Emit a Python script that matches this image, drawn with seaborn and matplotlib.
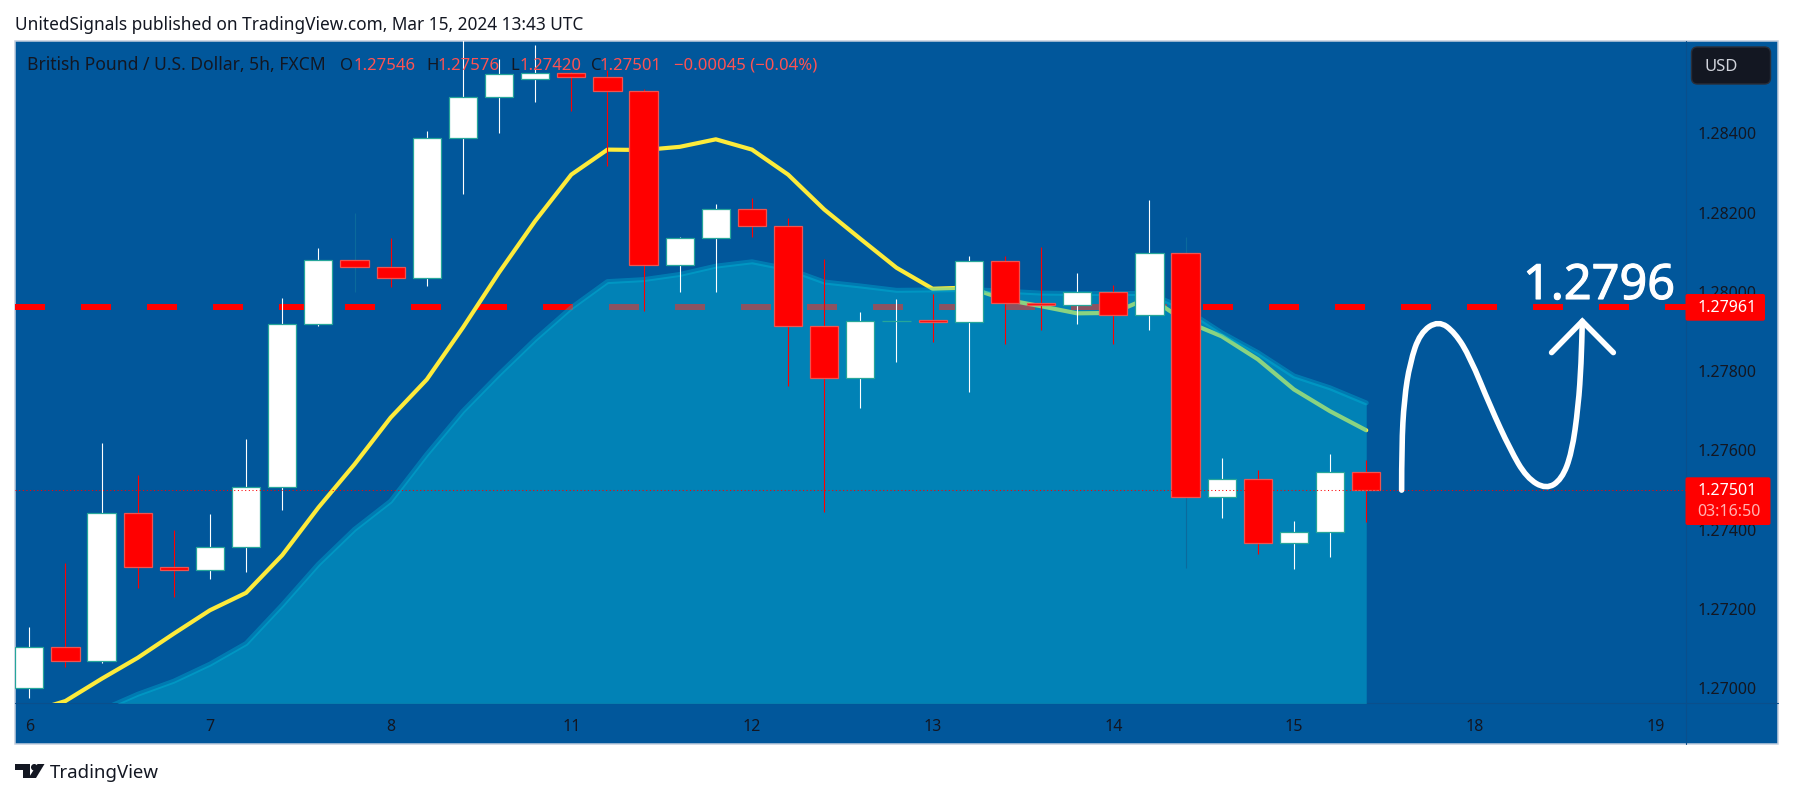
#!/usr/bin/env python3
"""
GBP/USD 5h candles with EMA lines and a hand drawn forecast
"""

import pandas as pd
import matplotlib
matplotlib.use("Agg")
import matplotlib.pyplot as plt
import matplotlib.patheffects as pe
import seaborn as sns
from matplotlib.patches import Rectangle, FancyBboxPatch, Polygon, Circle, PathPatch
from matplotlib.path import Path

# candles
opens = [1.27002, 1.27105, 1.27069, 1.27443, 1.27307, 1.27298, 1.27357, 1.27509, 1.27920, 1.28081,
         1.28064, 1.28036, 1.28389, 1.28492, 1.28538, 1.28553, 1.28543, 1.28507, 1.28069, 1.28136,
         1.28210, 1.28166, 1.27914, 1.27784, 1.27926, 1.27928, 1.27925, 1.28078, 1.27973, 1.27968,
         1.28000, 1.27942, 1.28099, 1.27483, 1.27529, 1.27367, 1.27395, 1.27546]
highs = [1.27154, 1.27315, 1.27620, 1.27537, 1.27399, 1.27441, 1.27628, 1.27984, 1.28110, 1.28200,
         1.28136, 1.28405, 1.28650, 1.28588, 1.28622, 1.28556, 1.28561, 1.28511, 1.28139, 1.28223,
         1.28236, 1.28187, 1.28082, 1.27950, 1.27981, 1.27994, 1.28090, 1.28090, 1.28114, 1.28047,
         1.28017, 1.28233, 1.28139, 1.27580, 1.27552, 1.27421, 1.27590, 1.27576]
lows = [1.26975, 1.27054, 1.27063, 1.27253, 1.27230, 1.27275, 1.27293, 1.27449, 1.27915, 1.27999,
        1.28013, 1.28015, 1.28246, 1.28400, 1.28479, 1.28456, 1.28317, 1.27952, 1.27999, 1.27999,
        1.28139, 1.27762, 1.27445, 1.27707, 1.27822, 1.27873, 1.27747, 1.27868, 1.27903, 1.27918,
        1.27868, 1.27905, 1.27304, 1.27429, 1.27340, 1.27300, 1.27331, 1.27420]
closes = [1.27105, 1.27069, 1.27443, 1.27307, 1.27298, 1.27357, 1.27509, 1.27920, 1.28081, 1.28064,
          1.28036, 1.28389, 1.28492, 1.28550, 1.28553, 1.28543, 1.28507, 1.28069, 1.28136, 1.28210,
          1.28166, 1.27914, 1.27784, 1.27926, 1.27927, 1.27923, 1.28078, 1.27973, 1.27968, 1.27999,
          1.27942, 1.28099, 1.27483, 1.27529, 1.27367, 1.27394, 1.27546, 1.27501]
faint_wicks = [9, 32]

# yellow line, one value per candle
fast_line = [1.26940, 1.26968, 1.27024, 1.27077, 1.27138, 1.27197, 1.27241, 1.27336, 1.27456, 1.27565,
             1.27683, 1.27779, 1.27910, 1.28049, 1.28179, 1.28296, 1.28359, 1.28358, 1.28366, 1.28385,
             1.28359, 1.28296, 1.28208, 1.28134, 1.28061, 1.28008, 1.28011, 1.27981, 1.27964, 1.27946,
             1.27947, 1.27986, 1.27926, 1.27888, 1.27830, 1.27754, 1.27699, 1.27651]

# shaded line, starts at the third candle
slow_start = 2
slow_line = [1.26945, 1.26985, 1.27018, 1.27061, 1.27113, 1.27210, 1.27313, 1.27401,
             1.27472, 1.27590, 1.27699, 1.27792, 1.27880, 1.27960, 1.28026, 1.28031, 1.28044, 1.28065,
             1.28076, 1.28058, 1.28025, 1.28015, 1.28004, 1.28005, 1.28006, 1.28002, 1.27997, 1.27996,
             1.27996, 1.27996, 1.27956, 1.27897, 1.27847, 1.27788, 1.27758, 1.27720]

# hand drawn forecast, x in candle numbers
path_x = [37.98, 37.98, 38.05, 38.21, 38.49, 39.00, 39.46, 39.88, 40.43, 40.98, 41.44, 41.98,
          42.41, 42.69, 42.87, 42.95, 42.98]
path_y = [1.27500, 1.27611, 1.27729, 1.27821, 1.27897, 1.27928, 1.27897, 1.27834, 1.27712, 1.27603,
          1.27531, 1.27502, 1.27527, 1.27594, 1.27712, 1.27821, 1.27926]
head_x = [42.13, 42.98, 43.84]
head_y = [1.27847, 1.27926, 1.27847]

price_ticks = [1.27000, 1.27200, 1.27400, 1.27600, 1.27800, 1.28000, 1.28200, 1.28400]
day_pos = [0, 5, 10, 15, 20, 25, 30, 35, 40, 45]
day_labels = ["6", "7", "8", "11", "12", "13", "14", "15", "18", "19"]
level_price = 1.27961
last_price = 1.27501

BG = "#01579b"
RED = "#ff0000"
INK = "#131722"
W, H = 1793, 798

sns.set_theme(style="white")
plt.rcParams["font.family"] = ["Noto Sans", "DejaVu Sans"]

df = pd.DataFrame({"o": opens, "h": highs, "l": lows, "c": closes})
df["i"] = df.index
df["up"] = df["c"] >= df["o"]

fig = plt.figure(figsize=(W / 100, H / 100), dpi=100, facecolor="white")

# page layer in pixels
back = fig.add_axes([0, 0, 1, 1], zorder=0)
back.set_xlim(0, W)
back.set_ylim(H, 0)
back.axis("off")
back.add_patch(Rectangle((15, 41), 1763, 703, fc=BG, ec="#c3cede", lw=1.1))
back.plot([1686, 1686], [41, 744], color="#0a4f8c", lw=0.8)
back.plot([15, 1778], [703, 703], color="#0a4f8c", lw=0.8)
back.text(15, 25, "UnitedSignals published on TradingView.com, Mar 15, 2024 13:43 UTC",
          color=INK, fontsize=12.4, va="center")
back.text(50, 773, "TradingView", color=INK, fontsize=13.4, va="center")
back.add_patch(Polygon([(15, 764), (30, 764), (30, 778), (23, 778), (23, 770), (15, 770)], fc=INK, ec="none"))
back.add_patch(Circle((34.3, 767.3), 3.3, fc=INK, ec="none"))
back.add_patch(Polygon([(37.5, 764), (44.5, 764), (36, 778), (28.5, 778)], fc=INK, ec="none"))

# chart
ax = fig.add_axes([15 / W, 1 - 703 / H, (1686 - 15) / W, (703 - 41) / H], zorder=1)
ax.patch.set_alpha(0)
for s in ax.spines.values():
    s.set_visible(False)

ax.axhline(level_price, color=RED, lw=4.32, dashes=(5, 6), dash_capstyle="butt", zorder=2)
sns.lineplot(x=df["i"], y=fast_line, ax=ax, color="#fdeb3b", linewidth=3.0, errorbar=None, zorder=3)

slow_x = list(range(slow_start, slow_start + len(slow_line)))
ax.fill_between(slow_x, slow_line, 1.2690, color="#03b7d6", alpha=0.46, lw=0, zorder=4)
sns.lineplot(x=slow_x, y=slow_line, ax=ax, color="#00bedc", linewidth=3.6, alpha=0.35, errorbar=None, zorder=4.5)

for row in df.itertuples():
    wick = "#ffffff" if row.up else RED
    if row.i in faint_wicks:
        wick = "#0b6a9c"
    ax.vlines(row.i, row.l, row.h, color=wick, lw=0.8, zorder=5)

up = df[df["up"]]
down = df[~df["up"]]
ax.bar(up["i"], up["c"] - up["o"], bottom=up["o"], width=0.78, color="white",
       edgecolor="#26a69a", linewidth=0.9, zorder=6)
ax.bar(down["i"], down["c"] - down["o"], bottom=down["o"], width=0.78, color=RED,
       edgecolor="#ef5350", linewidth=0.9, zorder=6)

ax.axhline(last_price, color=RED, lw=0.75, dashes=(1, 2.5), zorder=7)

# forecast curve, smoothed through the midpoints
verts = [(path_x[0], path_y[0])]
codes = [Path.MOVETO]
for k in range(1, len(path_x) - 1):
    verts += [(path_x[k], path_y[k]),
              ((path_x[k] + path_x[k + 1]) / 2, (path_y[k] + path_y[k + 1]) / 2)]
    codes += [Path.CURVE3, Path.CURVE3]
verts.append((path_x[-1], path_y[-1]))
codes.append(Path.LINETO)
ax.add_patch(PathPatch(Path(verts, codes), fc="none", ec="white", lw=4.0, capstyle="round", zorder=8))
ax.plot(head_x, head_y, color="white", lw=4.0, solid_capstyle="round", solid_joinstyle="miter", zorder=8)

ax.set_xlim(-0.396, 45.85)
ax.set_ylim(1.26963, 1.28633)
ax.yaxis.tick_right()
ax.set_yticks(price_ticks)
ax.set_yticklabels([f"{p:.5f}" for p in price_ticks], fontsize=11.5, color=INK)
ax.set_xticks(day_pos)
ax.set_xticklabels(day_labels, fontsize=11.5, color=INK)
for lab in ax.get_xticklabels():
    if lab.get_text() in ("11", "18"):
        lab.set_fontweight("bold")
ax.tick_params(axis="x", length=0, pad=11.5)
ax.tick_params(axis="y", length=0, pad=8.6)
ax.set_xlabel("")
ax.set_ylabel("")
ax.grid(False)

# labels on top of the chart, in pixels
top = fig.add_axes([0, 0, 1, 1], zorder=2)
top.set_xlim(0, W)
top.set_ylim(H, 0)
top.axis("off")

y = 65.5
top.text(27, y, "British Pound / U.S. Dollar, 5h, FXCM", color=INK, fontsize=12.6, va="center")
legend_bits = [(340, "O", INK), (354, "1.27546", "#ff5252"), (426.5, "H", INK), (438, "1.27576", "#ff5252"),
               (510, "L", INK), (519.5, "1.27420", "#ff5252"), (591, "C", INK), (600, "1.27501", "#ff5252"),
               (674.5, "\u22120.00045 (\u22120.04%)", "#ff5252")]
for px, txt, col in legend_bits:
    top.text(px, y, txt, color=col, fontsize=12, va="center")

top.text(1523, 299, "1.2796", color="white", fontsize=35, va="baseline",
         path_effects=[pe.withStroke(linewidth=0.8, foreground="white")])

top.add_patch(FancyBboxPatch((1697, 52.5), 68, 26, boxstyle="round,pad=5.5,rounding_size=6",
                             fc=INK, ec="#2a2e39", lw=1))
top.text(1705, 67, "USD", color="#d1d4dc", fontsize=12, va="center")

top.add_patch(FancyBboxPatch((1685.5, 294), 79.5, 26.7, boxstyle="round,pad=0,rounding_size=2",
                             fc=RED, ec="none"))
top.text(1697.7, 308, f"{level_price:.5f}", color="white", fontsize=11.5, va="center")
top.add_patch(FancyBboxPatch((1685.5, 477.3), 85, 47.7, boxstyle="round,pad=0,rounding_size=2",
                             fc=RED, ec="none"))
top.text(1697.7, 491, f"{last_price:.5f}", color="white", fontsize=11.5, va="center")
top.text(1697.7, 511.5, "03:16:50", color="#ffb2b2", fontsize=11.5, va="center")

fig.savefig("out.png", dpi=100, facecolor="white")
